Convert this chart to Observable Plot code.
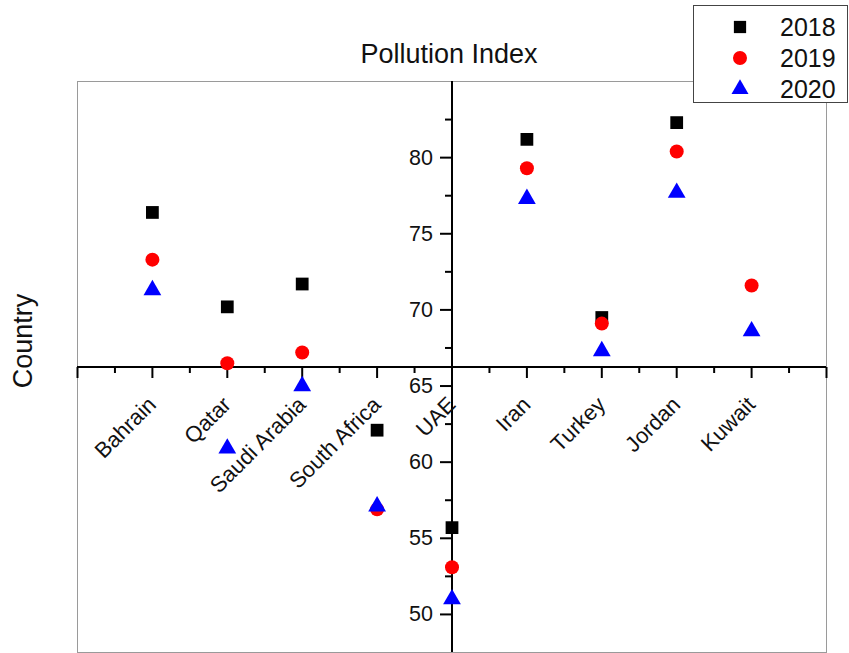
<!DOCTYPE html>
<html>
<head>
<meta charset="utf-8">
<script src="https://cdn.jsdelivr.net/npm/d3@7"></script>
<script src="https://cdn.jsdelivr.net/npm/@observablehq/plot@0.6"></script>
<style>
  html, body { margin: 0; padding: 0; background: #fff; }
  #wrap { position: relative; width: 849px; height: 653px; font-family: "Liberation Sans", Arial, sans-serif; }
  #legend { position: absolute; left: 693px; top: 5px; overflow: visible; }
</style>
</head>
<body>
<div id="wrap"></div>
<script>
// ---- data ----
const countries = ["Bahrain", "Qatar", "Saudi Arabia", "South Africa", "UAE", "Iran", "Turkey", "Jordan", "Kuwait"];
const pi2018 = [76.4, 70.2, 71.7, 62.1, 55.7, 81.2, 69.5, 82.3, null];
const pi2019 = [73.3, 66.5, 67.2, 56.9, 53.1, 79.3, 69.1, 80.4, 71.6];
const pi2020 = [71.3, 60.9, 65.0, 57.1, 51.0, 77.3, 67.3, 77.7, 68.6];
const years = ["2018", "2019", "2020"];
const yearColors = ["#000000", "#ff0000", "#0000ff"];
const yearSymbols = ["square", "circle", "triangle"];
const yMajorTicks = [50, 55, 60, 65, 70, 75, 80];
const yMinorTicks = [52.5, 57.5, 62.5, 67.5, 72.5, 77.5, 82.5];
const xMajorTicks = [0, 1, 2, 3, 4, 5, 6, 7, 8, 9, 10];
const xMinorTicks = [0.5, 1.5, 2.5, 3.5, 4.5, 5.5, 6.5, 7.5, 8.5, 9.5];
const yDomain = [47.5, 85];
const xDomain = [0, 10];
const xAxisAtY = 66.25;              // value where the category axis crosses
const yAxisAtX = countries.indexOf("UAE") + 1; // the value axis sits at UAE

const series = [pi2018, pi2019, pi2020];
const rows = series.map(vals => countries.map((c, i) => ({country: c, x: i + 1, y: vals[i]})).filter(d => d.y != null));

// custom tick symbols
const tickDown = len => ({draw(ctx) { ctx.moveTo(0, 0); ctx.lineTo(0, len); }});
const tickLeft = len => ({draw(ctx) { ctx.moveTo(0, 0); ctx.lineTo(-len, 0); }});

const FONT = "'Liberation Sans', Arial, sans-serif";

const chart = Plot.plot({
  width: 849,
  height: 653,
  marginLeft: 77,
  marginRight: 23,
  marginTop: 81,
  marginBottom: 1,
  style: {fontFamily: FONT, background: "#fff", color: "#000"},
  x: {domain: xDomain, axis: null},
  y: {domain: yDomain, axis: null},
  marks: [
    Plot.frame({stroke: "#9a9a9a", strokeWidth: 1}),
    Plot.ruleY([xAxisAtY], {stroke: "#000", strokeWidth: 2}),
    Plot.ruleX([yAxisAtX], {stroke: "#000", strokeWidth: 2}),
    // x ticks
    Plot.dot(xMajorTicks, {x: d => d, y: xAxisAtY, symbol: tickDown(11), r: 1, stroke: "#000", fill: "none", strokeWidth: 2}),
    Plot.dot(xMinorTicks, {x: d => d, y: xAxisAtY, symbol: tickDown(6), r: 1, stroke: "#000", fill: "none", strokeWidth: 2}),
    // y ticks
    Plot.dot(yMajorTicks, {x: yAxisAtX, y: d => d, symbol: tickLeft(12), r: 1, stroke: "#000", fill: "none", strokeWidth: 2}),
    Plot.dot(yMinorTicks, {x: yAxisAtX, y: d => d, symbol: tickLeft(7), r: 1, stroke: "#000", fill: "none", strokeWidth: 2}),
    // y tick labels
    Plot.text(yMajorTicks, {x: yAxisAtX, y: d => d, text: d => String(d), textAnchor: "end", dx: -19, fontSize: 21.5, fill: "#111"}),
    // category labels
    Plot.text(countries, {x: (d, i) => i + 1, y: xAxisAtY, text: d => d, rotate: -45, textAnchor: "end", dy: 34, fontSize: 22, fill: "#111"}),
    // data points
    ...rows.map((r, k) => Plot.dot(r, {x: "x", y: "y", symbol: yearSymbols[k], fill: yearColors[k], stroke: "none",
      r: k === 0 ? 7.2 : k === 1 ? 7 : 6.6})),
    // title and axis title
    Plot.text(["Pollution Index"], {frameAnchor: "top", lineAnchor: "middle", textAnchor: "middle", dx: -3, dy: -27, fontSize: 27, fill: "#111"}),
    Plot.text(["Country"], {frameAnchor: "left", lineAnchor: "middle", textAnchor: "middle", dx: -54, dy: -26, rotate: -90, fontSize: 27, fill: "#111"})
  ]
});

const wrap = document.getElementById("wrap");
wrap.appendChild(chart);

// legend overlay
const lw = 154, lh = 97;
const leg = d3.select(wrap).append("svg").attr("id", "legend").attr("width", lw + 2).attr("height", lh + 12);
leg.append("rect").attr("x", 0.5).attr("y", 0.5).attr("width", lw).attr("height", lh)
  .attr("fill", "#fff").attr("stroke", "#444").attr("stroke-width", 1);
const symMap = {square: d3.symbolSquare, circle: d3.symbolCircle, triangle: d3.symbolTriangle};
const rowY = [22, 53, 84];
years.forEach((y, k) => {
  const size = k === 0 ? 150 : k === 1 ? 154 : 125;
  leg.append("path").attr("d", d3.symbol(symMap[yearSymbols[k]], size)())
    .attr("transform", `translate(47,${rowY[k]})`).attr("fill", yearColors[k]);
  leg.append("text").attr("x", 87).attr("y", rowY[k]).attr("dy", "0.35em")
    .attr("font-family", FONT).attr("font-size", 25).attr("fill", "#111").text(y);
});
</script>
</body>
</html>
